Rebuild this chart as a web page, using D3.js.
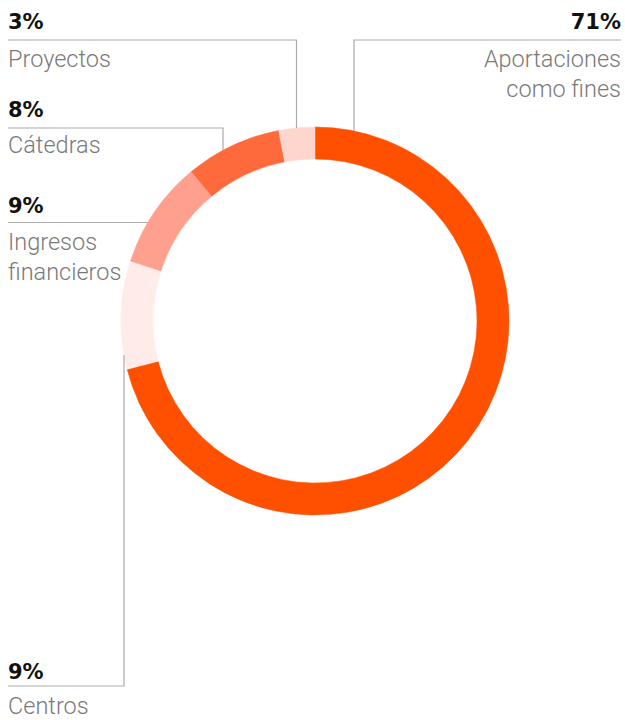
<!DOCTYPE html>
<html><head><meta charset="utf-8">
<script src="https://cdn.jsdelivr.net/npm/d3@7"></script>
<style>
html,body{margin:0;padding:0;background:#fff;}
svg{display:block;}
</style></head>
<body>
<svg id="chart" width="625" height="720"></svg>
<script>
// Data
const categories = ["Aportaciones como fines", "Centros", "Ingresos financieros", "Cátedras", "Proyectos"];
const values = [71, 9, 9, 8, 3];
const pctLabels = ["71%", "9%", "9%", "8%", "3%"];
const nameLines = [["Aportaciones", "como fines"], ["Centros"], ["Ingresos", "financieros"], ["Cátedras"], ["Proyectos"]];
const colors = ["#FF5000", "#FFEBE7", "#FFA08E", "#FF6A3D", "#FFD6CE"];

// Layout (label placement)
const W = 625, H = 720;
const cx = 315, cy = 321, rOuter = 194, rInner = 162;
const labelLayout = [
  {side: "right", pctY: 29, nameY: 67, lineY: 40, elbowX: 354, dir: -1},
  {side: "left", pctY: 679, nameY: 714, lineY: 686, elbowX: 124, dir: 1},
  {side: "left", pctY: 213, nameY: 250, lineY: 222.5, elbowX: null, dir: -1},
  {side: "left", pctY: 117, nameY: 153, lineY: 128, elbowX: 223, dir: -1},
  {side: "left", pctY: 29, nameY: 67, lineY: 40, elbowX: 296.5, dir: -1}
];
const leftX = 8, rightX = 621, lineH = 30;

const svg = d3.select("#chart");
const pie = d3.pie().sort(null).value(d => d)(values);
const arc = d3.arc().innerRadius(rInner).outerRadius(rOuter);

const g = svg.append("g").attr("transform", `translate(${cx},${cy})`);
g.selectAll("path").data(pie).join("path")
  .attr("d", arc)
  .attr("fill", (d, i) => colors[i])
  .attr("stroke", (d, i) => colors[i])
  .attr("stroke-width", 0.5);

// leader lines
const lines = svg.append("g").attr("fill", "none").attr("stroke", "#ababab").attr("stroke-width", 1.2);
labelLayout.forEach((L, i) => {
  let pts;
  if (L.elbowX !== null) {
    const dx = L.elbowX - cx;
    const yHit = cy + L.dir * Math.sqrt(rOuter * rOuter - dx * dx);
    const startX = L.side === "left" ? leftX : rightX;
    pts = [[startX, L.lineY], [L.elbowX, L.lineY], [L.elbowX, yHit]];
  } else {
    const dy = L.lineY - cy;
    const xHit = cx - Math.sqrt(rOuter * rOuter - dy * dy);
    pts = [[leftX, L.lineY], [xHit, L.lineY]];
  }
  lines.append("path").attr("d", d3.line()(pts));
});

// labels
const labels = svg.append("g");
labelLayout.forEach((L, i) => {
  const x = L.side === "left" ? leftX : rightX;
  const anchor = L.side === "left" ? "start" : "end";
  labels.append("text")
    .attr("x", x).attr("y", L.pctY)
    .attr("text-anchor", anchor)
    .attr("font-family", "DejaVu Sans")
    .attr("font-weight", 700)
    .attr("font-size", 21)
    .attr("fill", "#111")
    .text(pctLabels[i]);
  nameLines[i].forEach((t, j) => {
    labels.append("text")
      .attr("x", x).attr("y", L.nameY + j * lineH)
      .attr("text-anchor", anchor)
      .attr("font-family", "Roboto")
      .attr("font-weight", 300)
      .attr("font-size", 23.5)
      .attr("fill", "#7a7a7a")
      .text(t);
  });
});
</script>
</body></html>
